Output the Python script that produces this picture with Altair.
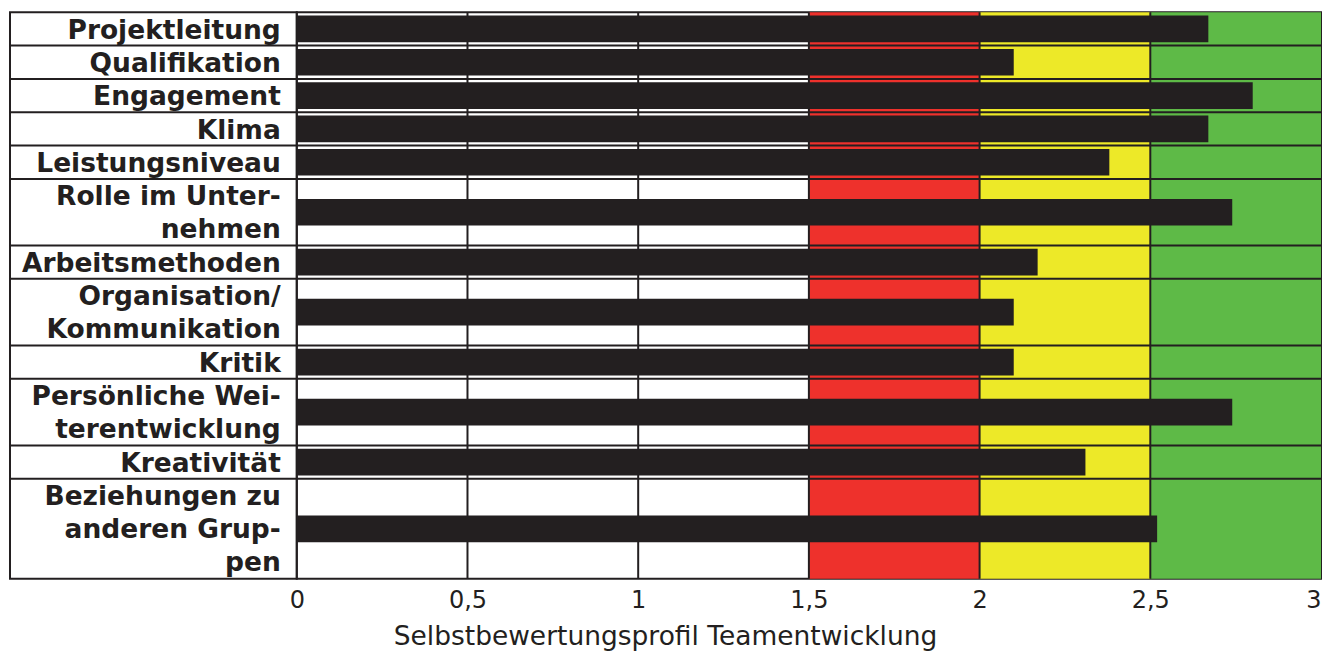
import itertools
import altair as alt
import pandas as pd

# ---- data ----
categories = [
    "Projektleitung",
    "Qualifikation",
    "Engagement",
    "Klima",
    "Leistungsniveau",
    "Rolle im Unter-\nnehmen",
    "Arbeitsmethoden",
    "Organisation/\nKommunikation",
    "Kritik",
    "Persönliche Wei-\nterentwicklung",
    "Kreativität",
    "Beziehungen zu\nanderen Grup-\npen",
]
scores = [2.67, 2.10, 2.80, 2.67, 2.38, 2.74, 2.17, 2.10, 2.10, 2.74, 2.31, 2.52]

zone_from = [1.5, 2.0, 2.5]
zone_to = [2.0, 2.5, 3.0]
zone_colors = ["#ee312c", "#ede928", "#5eba47"]

grid_values = [0.5, 1.0, 1.5, 2.0, 2.5]
tick_values = [0, 0.5, 1, 1.5, 2, 2.5, 3]
x_title = "Selbstbewertungsprofil Teamentwicklung"

INK = "#231f20"
FONT = "DejaVu Sans"

# ---- derived tables ----
n_lines = [c.count("\n") + 1 for c in categories]
ends = list(itertools.accumulate(n_lines))
starts = [e - n for e, n in zip(ends, n_lines)]
total = ends[-1]

rows = pd.DataFrame({
    "category": categories,
    "score": scores,
    "start": starts,
    "end": ends,
})
rows["center"] = (rows["start"] + rows["end"]) / 2
rows["zero"] = 0.0

seps = pd.DataFrame({"pos": ends[:-1]})
zones = pd.DataFrame({"from": zone_from, "to": zone_to, "color": zone_colors})
grid = pd.DataFrame({"x": grid_values})

yscale = alt.Scale(domain=[0, total], reverse=True, nice=False, zero=False)
xscale = alt.Scale(domain=[0, 3], nice=False, zero=False)
xaxis = alt.Axis(
    values=tick_values,
    labelExpr="replace(toString(datum.value), '.', ',')",
    labelAlign={"condition": {"test": "datum.value >= 3", "value": "right"}, "value": "center"},
    ticks=False, domain=False, grid=False, title=None,
    labelFont=FONT, labelFontSize=24, labelColor=INK, labelPadding=10,
    labelFlush=False, labelOverlap=False,
)

PANEL_H = 567

# ---- label panel ----
label_seps = alt.Chart(seps).mark_rule(color=INK, strokeWidth=2).encode(
    y=alt.Y("pos:Q", scale=yscale, axis=None)
)
label_text = alt.Chart(rows).mark_text(
    align="right", baseline="alphabetic", font=FONT, fontWeight="bold",
    fontSize=26.5, lineBreak="\n", lineHeight=33, dy=26.5, color=INK,
).encode(
    x=alt.value(271),
    y=alt.Y("start:Q", scale=yscale, axis=None),
    text="category:N",
)
label_panel = alt.layer(label_seps, label_text).properties(width=287, height=PANEL_H)

# ---- plot panel ----
zone_layer = alt.Chart(zones).mark_rect().encode(
    x=alt.X("from:Q", scale=xscale, axis=xaxis),
    x2="to:Q",
    color=alt.Color("color:N", scale=None),
)
grid_layer = alt.Chart(grid).mark_rule(color=INK, strokeWidth=2).encode(
    x=alt.X("x:Q", scale=xscale, axis=xaxis)
)
sep_layer = alt.Chart(seps).mark_rule(color=INK, strokeWidth=2).encode(
    y=alt.Y("pos:Q", scale=yscale, axis=None)
)
bar_layer = alt.Chart(rows).transform_calculate(
    y0="datum.center - 0.4", y1="datum.center + 0.4"
).mark_rect(color=INK).encode(
    x=alt.X("zero:Q", scale=xscale, axis=xaxis),
    x2="score:Q",
    y=alt.Y("y0:Q", scale=yscale, axis=None),
    y2="y1:Q",
)
plot_panel = alt.layer(zone_layer, grid_layer, sep_layer, bar_layer).properties(
    width=1025, height=PANEL_H
)

chart = alt.hconcat(label_panel, plot_panel, spacing=0, bounds="flush").properties(
    title=alt.TitleParams(
        x_title, orient="bottom", anchor="middle", font=FONT, fontSize=26.5,
        fontWeight="normal", color=INK, offset=10,
    ),
    padding={"left": 0, "top": 2, "right": 0, "bottom": 0},
).configure_view(stroke=INK, strokeWidth=2)

chart.save("out.html", embed_options={"renderer": "svg", "actions": False})
